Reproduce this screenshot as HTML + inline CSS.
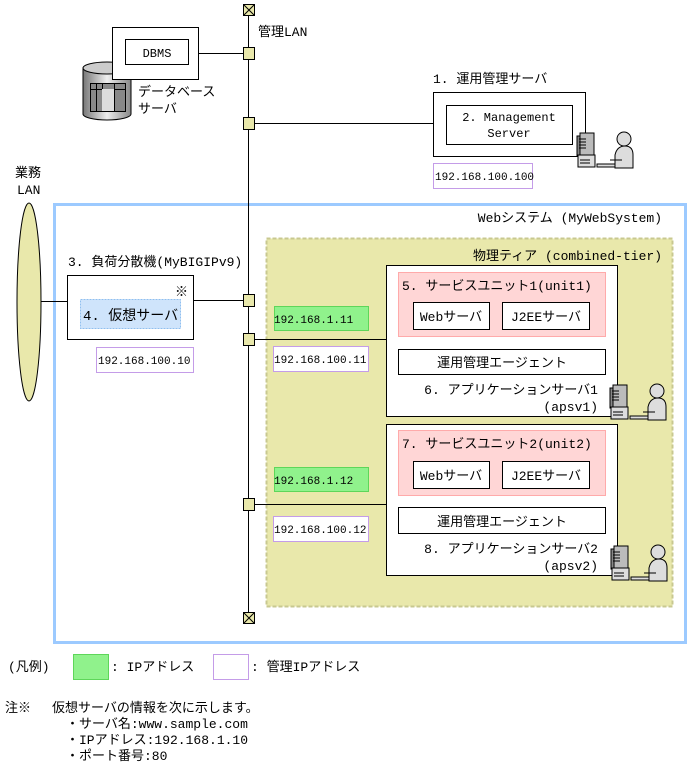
<!DOCTYPE html>
<html><head><meta charset="utf-8"><style>
body{margin:0;background:#fff}
svg{display:block}
text{font-family:"Liberation Mono","Noto Sans CJK JP",monospace;font-size:13px;fill:#000}
.m{font-family:"Liberation Mono","Noto Sans CJK JP",monospace;font-size:11px}
.b{font-size:12px}
</style></head><body>
<svg width="691" height="774" viewBox="0 0 691 774" xmlns="http://www.w3.org/2000/svg">
<defs>
<linearGradient id="cyl" x1="0" x2="1"><stop offset="0" stop-color="#777"/><stop offset="0.5" stop-color="#eee"/><stop offset="1" stop-color="#888"/></linearGradient>
<g id="pc">
 <rect x="0" y="3" width="14" height="20" fill="#888" stroke="#000"/>
 <rect x="3" y="0" width="14" height="22" fill="#bbb" stroke="#000"/>
 <path d="M2 6h7M2 9h7M2 12h7M2 15h7" stroke="#000"/>
 <rect x="1" y="22" width="17" height="12" fill="#ddd" stroke="#000"/>
 <path d="M3 27h10M3 30h10" stroke="#000"/>
 <rect x="20" y="31" width="18" height="3" fill="#ddd" stroke="#000"/>
 <circle cx="47" cy="6" r="7" fill="#ddd" stroke="#000"/>
 <path d="M38 22 Q40 13 48 13 Q56 13 56 22 L56 35 L38 35 Z" fill="#ddd" stroke="#000"/>
 <path d="M33 27 L45 27" stroke="#000"/>
</g>
</defs>

<rect x="54.5" y="204.5" width="631" height="438" fill="#fff" stroke="#9ccaff" stroke-width="3"/>
<text x="662" y="222" text-anchor="end">Webシステム (MyWebSystem)</text>
<rect x="266.5" y="238.5" width="406" height="368" fill="#e9e8ab" stroke="#c8c890" stroke-width="2" stroke-dasharray="4,2"/>
<text x="662" y="260" text-anchor="end">物理ティア (combined-tier)</text>

<line x1="248.5" y1="10" x2="248.5" y2="617" stroke="#000"/>
<rect x="243.5" y="4.5" width="11" height="11" fill="#e9e8ab" stroke="#000"/>
<path d="M243.5 4.5L254.5 15.5M254.5 4.5L243.5 15.5" stroke="#000"/>
<rect x="243.5" y="612.5" width="11" height="11" fill="#e9e8ab" stroke="#000"/>
<path d="M243.5 612.5L254.5 623.5M254.5 612.5L243.5 623.5" stroke="#000"/>
<text x="258" y="36">管理LAN</text>

<line x1="198" y1="53.5" x2="243" y2="53.5" stroke="#000"/>
<line x1="254" y1="123.5" x2="433" y2="123.5" stroke="#000"/>
<line x1="41" y1="301.5" x2="67" y2="301.5" stroke="#000"/>
<line x1="193" y1="300.5" x2="243" y2="300.5" stroke="#000"/>
<line x1="254" y1="339.5" x2="387" y2="339.5" stroke="#000"/>
<line x1="254" y1="504.5" x2="387" y2="504.5" stroke="#000"/>
<g fill="#e9e8ab" stroke="#000">
<rect x="243.5" y="47.5" width="11" height="12"/>
<rect x="243.5" y="117.5" width="11" height="12"/>
<rect x="243.5" y="294.5" width="11" height="12"/>
<rect x="243.5" y="333.5" width="11" height="12"/>
<rect x="243.5" y="498.5" width="11" height="12"/>
</g>

<path d="M83 68 L83 114 A24 6 0 0 0 131 114 L131 68 Z" fill="url(#cyl)" stroke="#000"/>
<ellipse cx="107" cy="68" rx="24" ry="6" fill="#ccc" stroke="#000"/>
<rect x="90.5" y="83.5" width="35" height="28" fill="#888" stroke="#000"/>
<path d="M90.5 89.5H125.5M96.5 83.5V111.5M102.5 83.5V111.5M114.5 83.5V111.5" stroke="#000"/>
<rect x="102" y="89" width="12" height="22" fill="#ddd"/>
<rect x="112.5" y="27.5" width="86" height="52" fill="#fff" stroke="#000"/>
<rect x="125.5" y="39.5" width="63" height="25" fill="#fff" stroke="#000"/>
<text x="157" y="57" text-anchor="middle" class="b">DBMS</text>
<text x="138" y="96">データベース</text>
<text x="138" y="113">サーバ</text>

<text x="433" y="83">1. 運用管理サーバ</text>
<rect x="433.5" y="92.5" width="152" height="64" fill="#fff" stroke="#000"/>
<rect x="446.5" y="105.5" width="126" height="39" fill="#fff" stroke="#000"/>
<text x="509" y="121" text-anchor="middle" class="b">2. Management</text>
<text x="509" y="137" text-anchor="middle" class="b">Server</text>
<rect x="433.5" y="163.5" width="99" height="25" fill="#fff" stroke="#c49ce8"/>
<text x="435" y="180" class="m">192.168.100.100</text>
<use href="#pc" x="577" y="133"/>

<text x="15" y="177">業務</text>
<text x="17" y="194">LAN</text>
<ellipse cx="29" cy="302" rx="12" ry="99" fill="#e9e8ab" stroke="#000"/>

<text x="68" y="266">3. 負荷分散機(MyBIGIPv9)</text>
<rect x="67.5" y="275.5" width="126" height="64" fill="#fff" stroke="#000"/>
<text x="175" y="296">※</text>
<rect x="80.5" y="299.5" width="100" height="29" fill="#cfe4fb" stroke="#8fbff0" stroke-dasharray="2,1"/>
<text x="83" y="320" style="font-size:14px">4. 仮想サーバ</text>
<rect x="96.5" y="347.5" width="97" height="25" fill="#fff" stroke="#c49ce8"/>
<text x="98" y="364" class="m">192.168.100.10</text>

<rect x="274.5" y="306.5" width="94" height="24" fill="#90f28c" stroke="#5ed65a"/>
<text x="274" y="323" class="m">192.168.1.11</text>
<rect x="273.5" y="346.5" width="95" height="25" fill="#fff" stroke="#c49ce8"/>
<text x="274" y="363" class="m">192.168.100.11</text>
<rect x="386.5" y="265.5" width="231" height="151" fill="#fff" stroke="#000"/>
<rect x="398.5" y="272.5" width="207" height="64" fill="#ffd6d6" stroke="#ffaaaa"/>
<text x="402" y="290">5. サービスユニット1(unit1)</text>
<rect x="413.5" y="302.5" width="76" height="27" fill="#fff" stroke="#000"/>
<text x="451" y="321" text-anchor="middle">Webサーバ</text>
<rect x="502.5" y="302.5" width="87" height="27" fill="#fff" stroke="#000"/>
<text x="546" y="321" text-anchor="middle">J2EEサーバ</text>
<rect x="398.5" y="349.5" width="207" height="25" fill="#fff" stroke="#000"/>
<text x="502" y="367" text-anchor="middle">運用管理エージェント</text>
<text x="598" y="394" text-anchor="end">6. アプリケーションサーバ1</text>
<text x="598" y="411" text-anchor="end">(apsv1)</text>
<use href="#pc" x="610" y="385"/>

<rect x="274.5" y="467.5" width="94" height="24" fill="#90f28c" stroke="#5ed65a"/>
<text x="274" y="484" class="m">192.168.1.12</text>
<rect x="273.5" y="516.5" width="95" height="25" fill="#fff" stroke="#c49ce8"/>
<text x="274" y="533" class="m">192.168.100.12</text>
<rect x="386.5" y="424.5" width="231" height="151" fill="#fff" stroke="#000"/>
<rect x="398.5" y="430.5" width="207" height="65" fill="#ffd6d6" stroke="#ffaaaa"/>
<text x="402" y="448">7. サービスユニット2(unit2)</text>
<rect x="413.5" y="461.5" width="76" height="27" fill="#fff" stroke="#000"/>
<text x="451" y="480" text-anchor="middle">Webサーバ</text>
<rect x="502.5" y="461.5" width="87" height="27" fill="#fff" stroke="#000"/>
<text x="546" y="480" text-anchor="middle">J2EEサーバ</text>
<rect x="398.5" y="507.5" width="207" height="26" fill="#fff" stroke="#000"/>
<text x="502" y="526" text-anchor="middle">運用管理エージェント</text>
<text x="598" y="553" text-anchor="end">8. アプリケーションサーバ2</text>
<text x="598" y="570" text-anchor="end">(apsv2)</text>
<use href="#pc" x="611" y="546"/>

<text x="8" y="671">(凡例)</text>
<rect x="73.5" y="654.5" width="35" height="25" fill="#90f28c" stroke="#5ed65a"/>
<text x="111" y="671">: IPアドレス</text>
<rect x="213.5" y="654.5" width="35" height="25" fill="#fff" stroke="#c49ce8"/>
<text x="251" y="671">: 管理IPアドレス</text>

<text x="5" y="712">注※</text>
<text x="52" y="712">仮想サーバの情報を次に示します。</text>
<text x="66" y="728">・サーバ名:www.sample.com</text>
<text x="66" y="744">・IPアドレス:192.168.1.10</text>
<text x="66" y="760">・ポート番号:80</text>
</svg>
</body></html>
